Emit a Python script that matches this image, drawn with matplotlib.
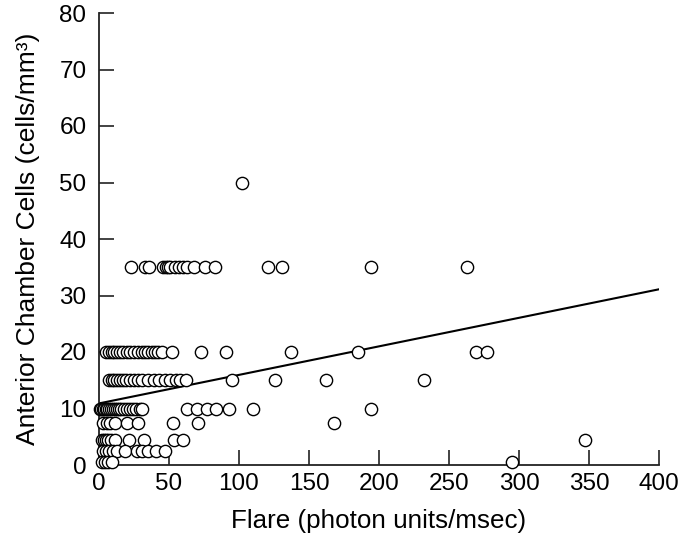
import matplotlib
matplotlib.use("Agg")
import matplotlib.pyplot as plt
import numpy as np

plt.rcParams['font.family'] = ['Liberation Sans', 'DejaVu Sans']

# Data: (flare, cells) grouped by cell-count row
row_50_x = [102]
row_35_x = [23, 33, 36, 46, 47.5, 49, 51, 54, 57, 60, 63, 68, 76, 83, 121, 131, 194, 263]
row_20_x = [5, 7, 9, 11, 13, 15, 17, 20, 22, 25, 28, 31, 33, 35, 38, 40, 42, 45, 52, 73, 91, 137, 185, 269, 277]
row_15_x = [7, 9, 11, 13, 15, 17, 19, 22, 25, 28, 31, 35, 39, 43, 47, 51, 55, 58, 62, 95, 126, 162, 232]
row_10_x = [0.5, 1.5, 2.5, 3.5, 5, 6, 7, 8.5, 10, 11.5, 13, 14.5, 16, 18, 20, 22, 24, 26.5, 29, 31,
            63, 70, 77, 83.5, 93, 110, 194]
row_7_x = [3, 5.5, 8, 11.5, 20, 28, 53, 71, 168]
row_5_x = [2, 3.5, 5, 6.5, 8.5, 11.5, 21.5, 32, 53.5, 60, 347]
row_2_x = [3, 5, 7, 10, 13, 18.5, 27, 30.5, 35, 40.5, 47]
row_0_x = [2, 4, 6.5, 9, 295]

rows = {50: row_50_x, 35: row_35_x, 20: row_20_x, 15: row_15_x, 10: row_10_x,
        7.5: row_7_x, 4.5: row_5_x, 2.5: row_2_x, 0.5: row_0_x}

flare = np.concatenate([np.array(v, float) for v in rows.values()])
cells = np.concatenate([np.full(len(v), k, float) for k, v in rows.items()])

# Regression line (as drawn)
fit_intercept = 10.9
fit_slope = 0.0505
fit_x = [0, 400]

x_ticks = [0, 50, 100, 150, 200, 250, 300, 350, 400]
y_ticks = [0, 10, 20, 30, 40, 50, 60, 70, 80]

fig = plt.figure(figsize=(6.84, 5.43), dpi=100)
ax = fig.add_axes([99/684, 78/543, 560/684, 452/543])

ax.scatter(flare, cells, s=78, facecolors='white', edgecolors='black', linewidths=1.0,
           zorder=3, clip_on=False)
fx = np.array(fit_x, float)
ax.plot(fx, fit_intercept + fit_slope * fx, color='black', lw=1.5, zorder=2)

ax.set_xlim(0, 400)
ax.set_ylim(0, 80)
ax.set_xticks(x_ticks)
ax.set_yticks(y_ticks)
ax.tick_params(axis='both', direction='in', length=11, width=1.2, labelsize=17.5, color='#222222')
ax.tick_params(axis='x', pad=6)
ax.tick_params(axis='y', pad=9)
for s in ['top', 'right']:
    ax.spines[s].set_visible(False)
for s in ['left', 'bottom']:
    ax.spines[s].set_linewidth(1.3)
    ax.spines[s].set_color('#222222')

ax.set_xlabel('Flare (photon units/msec)', fontsize=18.7, labelpad=10)
ax.set_ylabel('Anterior Chamber Cells (cells/mm³)', fontsize=19, labelpad=14)

fig.savefig('out.png', dpi=100)
